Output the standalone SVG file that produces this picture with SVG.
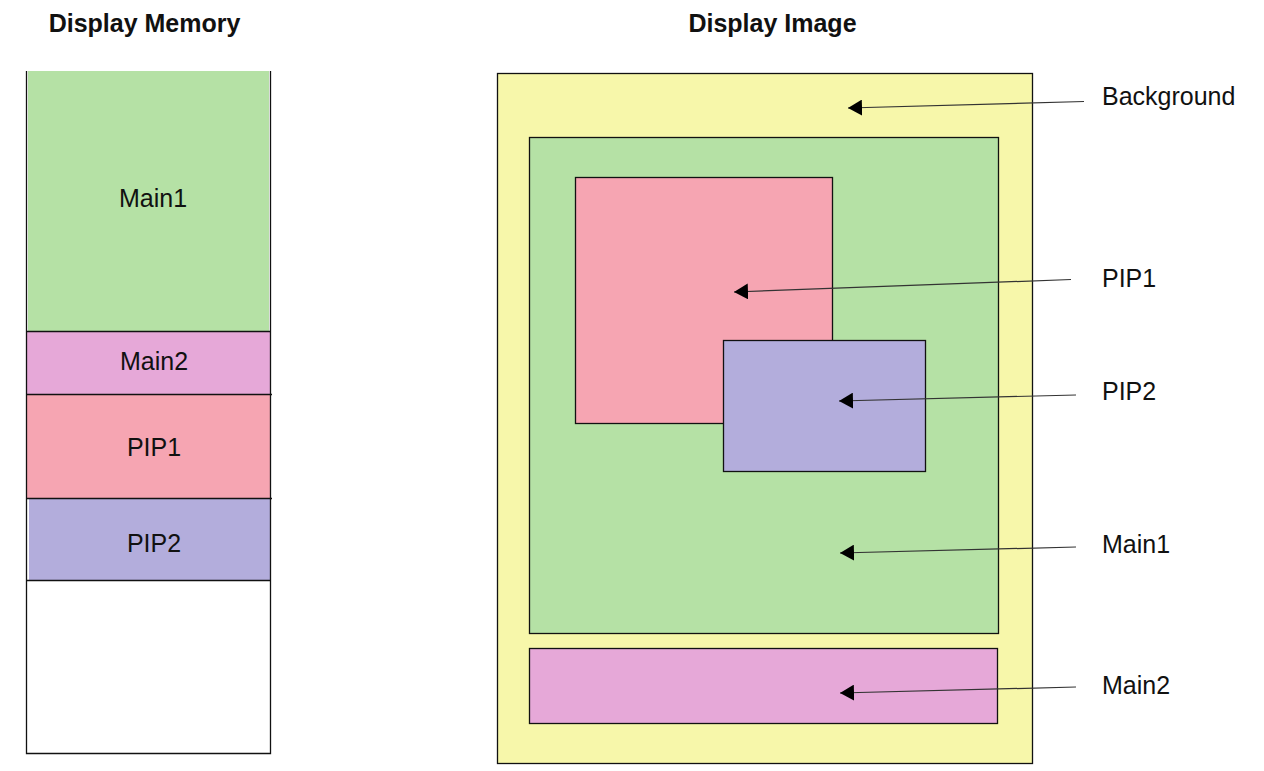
<svg xmlns="http://www.w3.org/2000/svg" width="1264" height="771" viewBox="0 0 1264 771">
<style>
.t{font-family:"Liberation Sans",Arial,sans-serif;font-size:25px;fill:#111}
.h{font-family:"Liberation Sans",Arial,sans-serif;font-size:25px;font-weight:bold;fill:#111}
.b{stroke:#111;stroke-width:1.3}
.c{stroke:#333;stroke-width:1.2;fill:none}
</style>
<defs>
<marker id="ah" viewBox="0 0 14 16" refX="14" refY="8" markerWidth="14" markerHeight="16" markerUnits="userSpaceOnUse" orient="auto">
<path d="M0,0 L14,8 L0,16 z" fill="#000"/>
</marker>
</defs>
<rect width="1264" height="771" fill="#fff"/>
<text class="h" x="144.5" y="32" text-anchor="middle">Display Memory</text>
<text class="h" x="772.5" y="32" text-anchor="middle">Display Image</text>
<g id="memory">
<g id="mem-main1"><rect x="28" y="71" width="241" height="260" fill="#B5E1A5"/><text class="t" x="153" y="207" text-anchor="middle">Main1</text></g>
<g id="mem-main2"><rect x="27" y="331" width="243" height="63" fill="#E6A8D8"/><text class="t" x="154" y="370" text-anchor="middle">Main2</text></g>
<g id="mem-pip1"><rect x="27" y="394" width="243" height="104" fill="#F6A5B2"/><text class="t" x="154" y="456" text-anchor="middle">PIP1</text></g>
<g id="mem-pip2"><rect x="29" y="498" width="241" height="82" fill="#B3ADDC"/><text class="t" x="154" y="552" text-anchor="middle">PIP2</text></g>
<g id="mem-frame" fill="none">
<path class="b" d="M26.5,71 V753.5 H270.5 V71"/>
<path class="b" d="M26.5,331.5 H270.5 M26.5,394.5 H272 M26.5,498.5 H272 M26.5,580.5 H270.5"/>
</g>
</g>
<g id="image">
<g id="bg"><rect x="497.5" y="73.5" width="535" height="690" fill="#F7F7AA" class="b"/></g>
<g id="img-main1"><rect x="529.5" y="137.5" width="469" height="496" fill="#B5E1A5" class="b"/></g>
<g id="img-pip1"><rect x="575.5" y="177.5" width="257" height="246" fill="#F6A5B2" class="b"/></g>
<g id="img-pip2"><rect x="723.5" y="340.5" width="202" height="131" fill="#B3ADDC" class="b"/></g>
<g id="img-main2"><rect x="529.5" y="648.5" width="468" height="75" fill="#E6A8D8" class="b"/></g>
</g>
<g id="labels">
<text class="t" x="1102" y="105">Background</text>
<text class="t" x="1102" y="287">PIP1</text>
<text class="t" x="1102" y="400">PIP2</text>
<text class="t" x="1102" y="553">Main1</text>
<text class="t" x="1102" y="694">Main2</text>
</g>
<g id="connectors">
<line class="c" x1="1084" y1="101.5" x2="848" y2="108" marker-end="url(#ah)"/>
<line class="c" x1="1071" y1="279.5" x2="734" y2="292" marker-end="url(#ah)"/>
<line class="c" x1="1076" y1="395" x2="839" y2="401" marker-end="url(#ah)"/>
<line class="c" x1="1076" y1="547" x2="840" y2="553" marker-end="url(#ah)"/>
<line class="c" x1="1076" y1="687" x2="840" y2="693" marker-end="url(#ah)"/>
</g>
</svg>
